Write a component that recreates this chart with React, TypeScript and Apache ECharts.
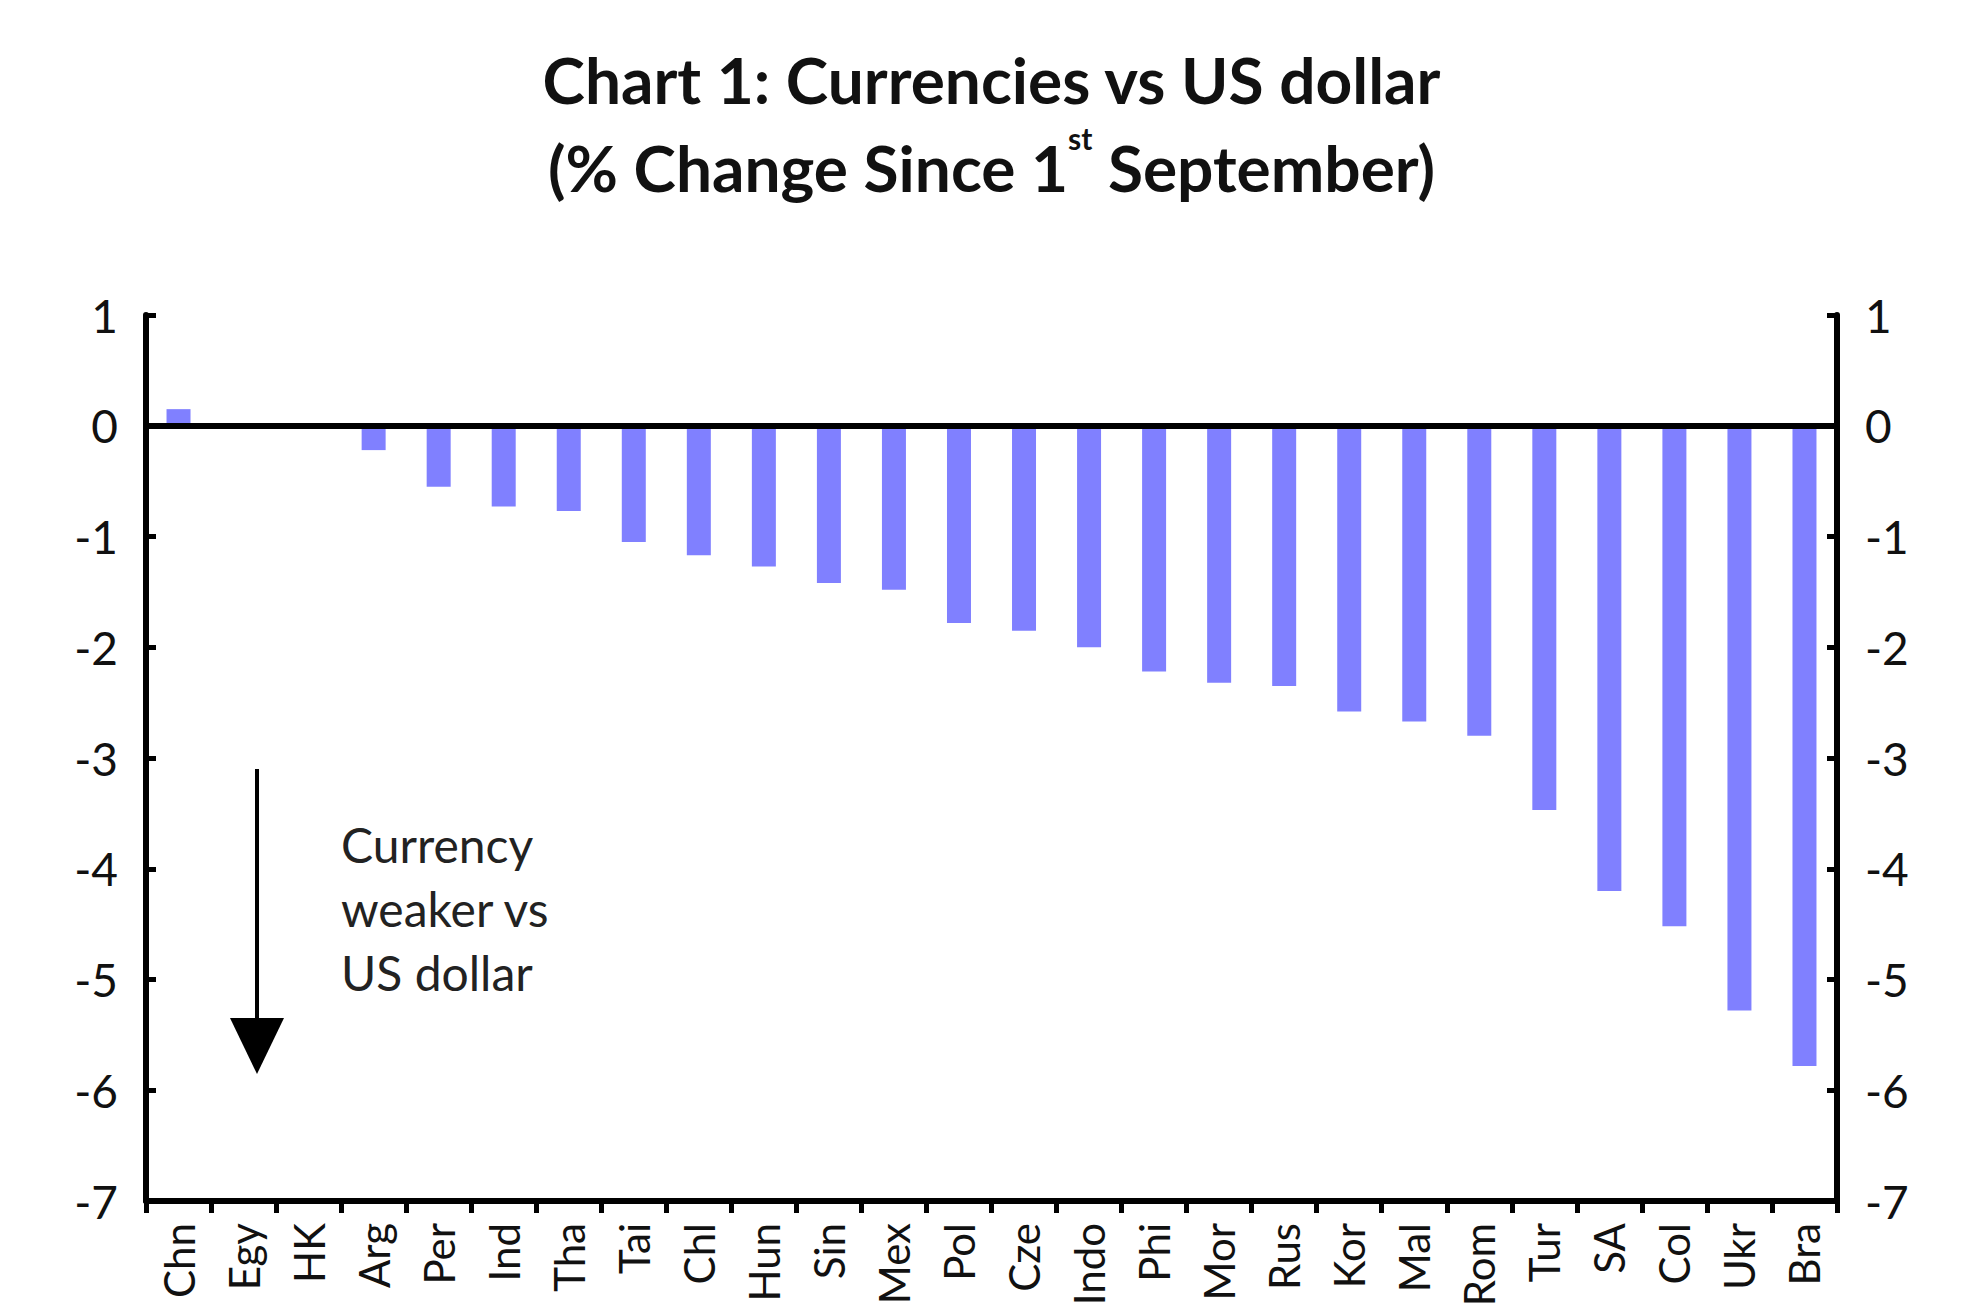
import React, { useEffect, useRef } from "react"
import * as echarts from "echarts"

const categories = ["Chn", "Egy", "HK", "Arg", "Per", "Ind", "Tha", "Tai", "Chl", "Hun", "Sin", "Mex", "Pol", "Cze", "Indo", "Phi", "Mor", "Rus", "Kor", "Mal", "Rom", "Tur", "SA", "Col", "Ukr", "Bra"]
const changes = [0.15, 0, 0, -0.22, -0.55, -0.73, -0.77, -1.05, -1.17, -1.27, -1.42, -1.48, -1.78, -1.85, -2.0, -2.22, -2.32, -2.35, -2.58, -2.67, -2.8, -3.47, -4.2, -4.52, -5.28, -5.78]

const FONT = "Lato, 'Open Sans', sans-serif"

export default function App() {
  const ref = useRef<HTMLDivElement>(null)

  useEffect(() => {
    document.body.style.margin = "0"
    if (!ref.current) return
    const chart = echarts.init(ref.current, undefined, { renderer: "svg" })
    const yAxisBase = {
      type: "value" as const,
      min: -7,
      max: 1,
      interval: 1,
      splitLine: { show: false },
      axisLine: { show: true, lineStyle: { color: "#000", width: 6 } },
      axisTick: { show: true, inside: true, length: 10, lineStyle: { color: "#000", width: 5 } },
      axisLabel: { color: "#111", fontSize: 46, fontFamily: FONT, margin: 28 },
    }
    chart.setOption({
      animation: false,
      backgroundColor: "#fff",
      title: {
        text: "Chart 1: Currencies vs US dollar\n(% Change Since 1{sup|st} September)",
        left: "center",
        top: 30,
        textStyle: {
          fontSize: 64,
          fontWeight: "bold",
          fontFamily: FONT,
          color: "#111",
          lineHeight: 88,
          rich: { sup: { fontSize: 30, fontWeight: "bold", verticalAlign: "top", padding: [0, 0, 30, 0], fontFamily: FONT, color: "#111" } },
        },
      },
      grid: { left: 146, right: 146, top: 315, bottom: 113, containLabel: false },
      xAxis: {
        type: "category",
        data: categories,
        position: "bottom",
        axisLine: { show: true, onZero: false, lineStyle: { color: "#000", width: 6 } },
        axisTick: { show: true, length: 12, lineStyle: { color: "#000", width: 5 } },
        axisLabel: { rotate: 90, fontSize: 42, fontFamily: FONT, color: "#111", margin: 22 },
      },
      yAxis: [
        { ...yAxisBase, position: "left" },
        { ...yAxisBase, position: "right" },
      ],
      series: [
        {
          type: "bar",
          data: changes,
          barWidth: 24,
          itemStyle: { color: "#8080FF" },
          markLine: {
            symbol: "none",
            silent: true,
            label: { show: false },
            lineStyle: { color: "#000", width: 6, type: "solid" },
            data: [{ yAxis: 0 }],
          },
        },
      ],
      graphic: [
        { type: "line", shape: { x1: 257, y1: 769, x2: 257, y2: 1030 }, style: { stroke: "#000", lineWidth: 4 } },
        { type: "polygon", shape: { points: [[230, 1018], [284, 1018], [257, 1074]] }, style: { fill: "#000" } },
        {
          type: "text",
          x: 341,
          y: 812,
          style: { text: "Currency\nweaker vs\nUS dollar", fontSize: 48, lineHeight: 64, fontFamily: FONT, fill: "#222" },
        },
      ],
    })
    return () => chart.dispose()
  }, [])

  return <div ref={ref} style={{ position: "absolute", left: 0, top: 0, width: 1983, height: 1314 }} />
}
